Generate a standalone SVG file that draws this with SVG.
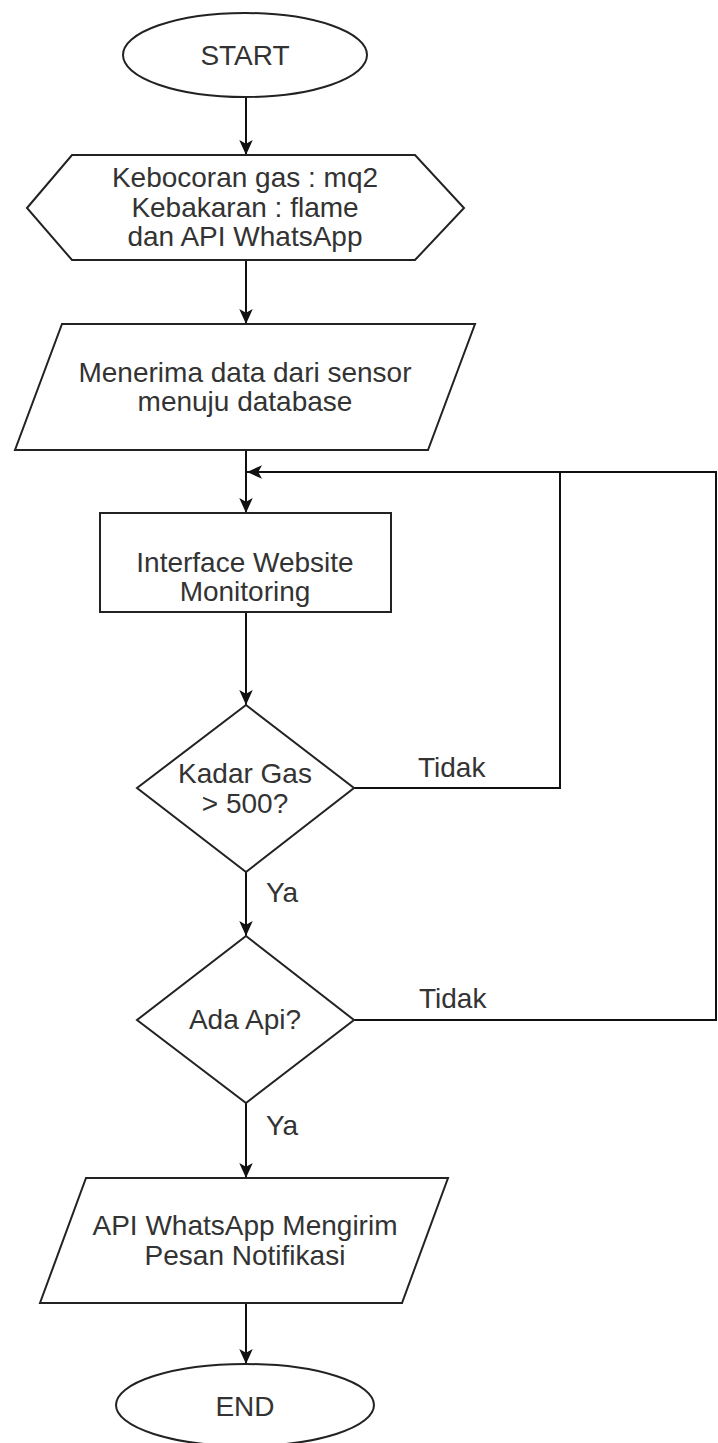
<svg xmlns="http://www.w3.org/2000/svg" width="718" height="1443" viewBox="0 0 718 1443">
  <defs>
    <marker id="arrow" viewBox="0 0 10 10" refX="10" refY="5" markerWidth="15" markerHeight="15" markerUnits="userSpaceOnUse" orient="auto">
      <path d="M0,0.5 L10,5 L0,9.5 L2.5,5 Z" fill="#111"/>
    </marker>
    <style>
      .shape { fill: #ffffff; stroke: #222; stroke-width: 2; }
      .edge { fill: none; stroke: #111; stroke-width: 2; }
      .label { font-family: "Liberation Sans", Arial, sans-serif; font-size: 28px; fill: #333; text-anchor: middle; }
      .tag { font-family: "Liberation Sans", Arial, sans-serif; font-size: 28px; fill: #333; }
    </style>
  </defs>
  <rect width="718" height="1443" fill="#ffffff"/>

  <g id="connectors">
    <line class="edge" x1="246" y1="97" x2="246" y2="155" marker-end="url(#arrow)"/>
    <line class="edge" x1="246" y1="260" x2="246" y2="324" marker-end="url(#arrow)"/>
    <line class="edge" x1="246" y1="450" x2="246" y2="513" marker-end="url(#arrow)"/>
    <line class="edge" x1="246" y1="612" x2="246" y2="705" marker-end="url(#arrow)"/>
    <line class="edge" x1="246" y1="872" x2="246" y2="936" marker-end="url(#arrow)"/>
    <line class="edge" x1="246" y1="1103" x2="246" y2="1178" marker-end="url(#arrow)"/>
    <line class="edge" x1="246" y1="1303" x2="246" y2="1364" marker-end="url(#arrow)"/>
    <!-- "Tidak" branches loop back to the monitoring step -->
    <polyline class="edge" points="354,788 560,788 560,472"/>
    <polyline class="edge" points="354,1020 716,1020 716,472 247,472" marker-end="url(#arrow)"/>
    <text class="tag" x="418" y="777">Tidak</text>
    <text class="tag" x="419" y="1008">Tidak</text>
    <text class="tag" x="266" y="902">Ya</text>
    <text class="tag" x="266" y="1135">Ya</text>
  </g>

  <g id="start">
    <ellipse class="shape" cx="245" cy="55" rx="122" ry="42"/>
    <text class="label" x="245" y="65">START</text>
  </g>

  <g id="sensors">
    <polygon class="shape" points="27,208 72,155 415,155 464,208 415,260 72,260"/>
    <text class="label" x="245" y="187">Kebocoran gas : mq2</text>
    <text class="label" x="245" y="217">Kebakaran : flame</text>
    <text class="label" x="245" y="246">dan API WhatsApp</text>
  </g>

  <g id="receive-data">
    <polygon class="shape" points="62,324 475,324 428,450 15,450"/>
    <text class="label" x="245" y="382">Menerima data dari sensor</text>
    <text class="label" x="245" y="411">menuju database</text>
  </g>

  <g id="website">
    <rect class="shape" x="100" y="513" width="291" height="99"/>
    <text class="label" x="245" y="572">Interface Website</text>
    <text class="label" x="245" y="601">Monitoring</text>
  </g>

  <g id="gas-check">
    <polygon class="shape" points="246,705 354,788 246,872 137,788"/>
    <text class="label" x="245" y="783">Kadar Gas</text>
    <text class="label" x="245" y="813">&gt; 500?</text>
  </g>

  <g id="fire-check">
    <polygon class="shape" points="246,936 354,1020 246,1103 137,1020"/>
    <text class="label" x="245" y="1029">Ada Api?</text>
  </g>

  <g id="notify">
    <polygon class="shape" points="86,1178 448,1178 402,1303 40,1303"/>
    <text class="label" x="245" y="1235">API WhatsApp Mengirim</text>
    <text class="label" x="245" y="1265">Pesan Notifikasi</text>
  </g>

  <g id="end">
    <ellipse class="shape" cx="245" cy="1405" rx="129" ry="41"/>
    <text class="label" x="245" y="1416">END</text>
  </g>
</svg>
